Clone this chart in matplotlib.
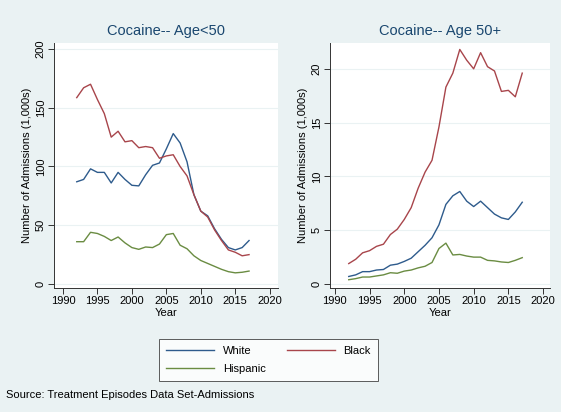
import matplotlib
matplotlib.use("Agg")
import matplotlib.pyplot as plt

plt.rcParams['font.family'] = ['Liberation Sans', 'DejaVu Sans']

years = list(range(1992, 2018))

white_u50 = [87, 89, 98, 95, 95, 86, 95, 89, 84, 83.5, 93, 101, 103, 115, 128, 120, 104, 76, 62, 58, 47, 38, 31, 29, 31, 37]
black_u50 = [158.6, 167, 170, 157, 145, 125, 130, 121, 122, 116, 117, 116, 107, 109, 110, 100, 92, 76, 62, 57, 46, 37, 29, 27, 24, 25]
hisp_u50 = [36, 36, 44, 43, 40.5, 37, 40, 35, 31, 29.5, 31.5, 31, 34, 42, 43, 33, 30, 24, 20, 17.5, 15, 12.5, 10.5, 9.5, 10, 11]

white_50p = [0.7, 0.85, 1.15, 1.15, 1.3, 1.35, 1.75, 1.85, 2.1, 2.4, 3.0, 3.6, 4.3, 5.5, 7.4, 8.2, 8.6, 7.7, 7.2, 7.7, 7.1, 6.5, 6.15, 6.0, 6.7, 7.6]
black_50p = [1.9, 2.3, 2.9, 3.1, 3.5, 3.7, 4.6, 5.1, 6.0, 7.1, 8.9, 10.4, 11.5, 14.6, 18.3, 19.6, 21.8, 20.8, 20.0, 21.5, 20.2, 19.8, 17.9, 18.0, 17.4, 19.6]
hisp_50p = [0.4, 0.5, 0.65, 0.65, 0.75, 0.85, 1.05, 1.0, 1.2, 1.3, 1.5, 1.65, 2.0, 3.3, 3.8, 2.7, 2.75, 2.6, 2.5, 2.5, 2.2, 2.15, 2.05, 2.0, 2.2, 2.45]

titles = ["Cocaine-- Age<50", "Cocaine-- Age 50+"]
series_names = ["White", "Black", "Hispanic"]
x_ticks = [1990, 1995, 2000, 2005, 2010, 2015, 2020]
y_ticks_left = [0, 50, 100, 150, 200]
y_ticks_right = [0, 5, 10, 15, 20]

colors = {"White": "#2e5b8c", "Black": "#a8454b", "Hispanic": "#6a8c42"}
bg = "#eaf2f3"

fig = plt.figure(figsize=(5.61, 4.12), dpi=100, facecolor=bg)

W, H = 561, 412
def rect(x0, y0, x1, y1):
    return [x0 / W, 1 - y1 / H, (x1 - x0) / W, (y1 - y0) / H]

ax1 = fig.add_axes(rect(54, 43, 278, 288))
ax2 = fig.add_axes(rect(330, 43, 550, 288))

panels = [
    (ax1, [white_u50, black_u50, hisp_u50], y_ticks_left, (-3.4, 205.1), (1988.7, 2021.2)),
    (ax2, [white_50p, black_50p, hisp_50p], y_ticks_right, (-0.37, 22.4), (1989.3, 2021.0)),
]

handles = {}
for (ax, data, yt, ylim, xlim), title in zip(panels, titles):
    ax.set_facecolor("white")
    for name, vals in zip(series_names, data):
        ln, = ax.plot(years, vals, color=colors[name], lw=1.0, label=name)
        handles[name] = ln
    ax.set_xlim(*xlim)
    ax.set_ylim(*ylim)
    ax.set_xticks(x_ticks)
    ax.set_yticks(yt)
    ax.set_yticklabels([str(v) for v in yt], rotation=90, va='center')
    ax.grid(axis='y', color=bg, lw=0.8)
    ax.set_axisbelow(True)
    for s in ['top', 'right']:
        ax.spines[s].set_visible(False)
    for s in ['left', 'bottom']:
        ax.spines[s].set_color('#333333')
        ax.spines[s].set_linewidth(0.7)
    ax.tick_params(axis='both', direction='out', length=4, width=0.7, color='#333333',
                   labelsize=8, pad=2)
    ax.set_xlabel("Year", fontsize=8, labelpad=1)
    ax.set_ylabel("Number of Admissions (1,000s)", fontsize=8, labelpad=2.5)
    ax.set_title(title, fontsize=10.5, color="#1a476f", pad=6)

leg = fig.legend([handles["White"], handles["Hispanic"], handles["Black"]],
                 ["White", "Hispanic", "Black"], ncol=2,
                 loc='center', bbox_to_anchor=((161 + 376) / 2 / W, 1 - 360 / H),
                 fontsize=8, frameon=True, fancybox=False, edgecolor='#333333',
                 handlelength=4.3, columnspacing=1.9, handletextpad=0.8,
                 borderpad=0.6, labelspacing=0.7, borderaxespad=0)
leg.get_frame().set_linewidth(0.7)
leg.get_frame().set_facecolor('white')

fig.text(6 / W, 1 - 395 / H, "Source: Treatment Episodes Data Set-Admissions",
         fontsize=8, va='center', ha='left')

fig.savefig("out.png", dpi=100, facecolor=bg)
